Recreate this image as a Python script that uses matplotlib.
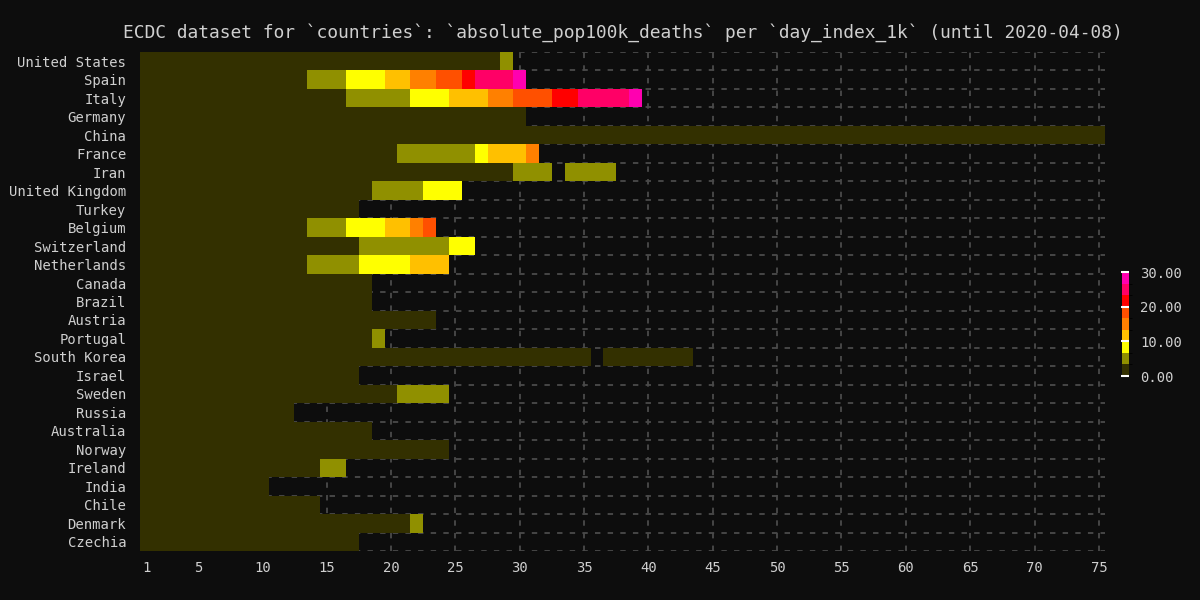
import matplotlib.pyplot as plt
import numpy as np
from matplotlib.colors import ListedColormap, BoundaryNorm

# monospace look like the original
plt.rcParams['font.family'] = ['DejaVu Sans Mono']

# ---------------------------------------------------------
# DATA: cumulative deaths per 100k inhabitants, one value per
# day since the country passed 1000 cases (None = no report)
# ---------------------------------------------------------
countries = ["United States", "Spain", "Italy", "Germany", "China", "France",
             "Iran", "United Kingdom", "Turkey", "Belgium", "Switzerland",
             "Netherlands", "Canada", "Brazil", "Austria", "Portugal",
             "South Korea", "Israel", "Sweden", "Russia", "Australia",
             "Norway", "Ireland", "India", "Chile", "Denmark", "Czechia"]

us = [0.0, 0.0, 0.0, 0.0, 0.0, 0.0, 0.0, 0.0, 0.0, 0.0, 0.0, 0.0, 0.0, 0.1, 0.1,
      0.1, 0.2, 0.2, 0.3, 0.4, 0.5, 0.6, 0.8, 1.0, 1.3, 1.7, 2.1, 2.8, 3.9]
spain = [0.0, 0.0, 0.0, 0.0, 0.0, 0.0, 0.1, 0.1, 0.2, 0.4, 0.6, 0.8, 2.3, 3.7, 4.7,
         5.8, 7.1, 8.6, 9.9, 11.6, 12.9, 14.3, 15.9, 17.5, 19.2, 20.6, 23.5, 24.9,
         26.4, 29.9]
italy = [0.0, 0.1, 0.1, 0.1, 0.2, 0.2, 0.3, 0.4, 0.6, 0.8, 1.0, 1.3, 1.7, 2.1, 2.6,
         3.0, 3.6, 4.2, 4.8, 5.6, 6.5, 7.4, 8.4, 9.3, 10.3, 11.4, 12.6, 13.9, 15.2,
         16.9, 18.1, 19.3, 20.6, 21.8, 23.4, 24.5, 25.5, 26.4, 28.4]
germany = [0.0, 0.0, 0.0, 0.0, 0.0, 0.0, 0.0, 0.0, 0.0, 0.0, 0.0, 0.0, 0.1, 0.1, 0.1,
           0.2, 0.3, 0.3, 0.4, 0.5, 0.6, 0.7, 0.8, 1.0, 1.1, 1.4, 1.6, 1.9, 2.1, 2.4]
china = [0.0, 0.0, 0.0, 0.0, 0.0, 0.0, 0.0, 0.0, 0.0, 0.0,
         0.0, 0.0, 0.0, 0.0, 0.1, 0.1, 0.1, 0.1, 0.1, 0.1,
         0.1, 0.1, 0.1, 0.1, 0.1, 0.1, 0.1, 0.1, 0.1, 0.1,
         0.1, 0.2, 0.2, 0.2, 0.2, 0.2, 0.2, 0.2, 0.2, 0.2,
         0.2, 0.2, 0.2, 0.2, 0.2, 0.2, 0.2, 0.2, 0.2, 0.2,
         0.2, 0.2, 0.2, 0.2, 0.2, 0.2, 0.2, 0.2, 0.2, 0.2,
         0.2, 0.2, 0.2, 0.2, 0.2, 0.2, 0.2, 0.2, 0.2, 0.2,
         0.2, 0.2, 0.2, 0.2, 0.2]
france = [0.0, 0.0, 0.0, 0.0, 0.0, 0.0, 0.0, 0.1, 0.1, 0.1, 0.1, 0.2, 0.3, 0.4, 0.6,
          0.9, 1.1, 1.4, 1.9, 2.6, 3.4, 4.0, 4.6, 5.0, 5.4, 6.0, 8.0, 10.4, 11.3,
          12.4, 15.8]
iran = [0.0, 0.0, 0.0, 0.1, 0.1, 0.1, 0.1, 0.2, 0.2, 0.3, 0.3, 0.4, 0.4, 0.5, 0.6,
        0.7, 0.8, 0.9, 1.1, 1.2, 1.4, 1.6, 1.8, 2.0, 2.2, 2.4, 2.6, 2.9, 3.2, 3.4,
        3.6, 3.8, None, 4.1, 4.3, 4.5, 4.7]
uk = [0.0, 0.0, 0.0, 0.0, 0.0, 0.1, 0.1, 0.2, 0.3, 0.4, 0.5, 0.6, 0.9, 1.1, 1.5,
      1.8, 2.2, 2.9, 3.5, 4.5, 5.5, 6.4, 7.4, 8.4, 9.3]
turkey = [0.0, 0.0, 0.0, 0.1, 0.1, 0.1, 0.2, 0.2, 0.3, 0.3, 0.4, 0.5, 0.5, 0.6, 0.7,
          0.8, 0.9]
belgium = [0.0, 0.0, 0.0, 0.1, 0.1, 0.1, 0.3, 0.6, 0.7, 1.0, 1.5, 2.0, 2.7, 3.6, 4.5,
           6.0, 7.6, 8.9, 9.9, 10.7, 12.3, 15.0, 19.5]
switzerland = [0.0, 0.0, 0.0, 0.1, 0.1, 0.2, 0.2, 0.3, 0.4, 0.6, 0.7, 0.9, 1.1, 1.4,
               1.7, 2.3, 2.8, 3.4, 3.9, 4.4, 4.9, 5.4, 6.1, 6.5, 7.0, 7.8]
netherlands = [0.0, 0.0, 0.1, 0.1, 0.2, 0.3, 0.4, 0.6, 0.8, 1.2, 1.6, 2.1, 2.6, 3.4,
               4.2, 5.1, 6.2, 7.0, 7.9, 8.7, 9.6, 10.2, 11.1, 12.1]
canada = [0.0, 0.0, 0.0, 0.0, 0.0, 0.1, 0.1, 0.1, 0.2, 0.2, 0.3, 0.4, 0.5, 0.6, 0.8,
          0.9, 1.0, 1.1]
brazil = [0.0, 0.0, 0.0, 0.0, 0.0, 0.0, 0.0, 0.1, 0.1, 0.1, 0.2, 0.2, 0.3, 0.3, 0.4,
          0.5, 0.5, 0.6]
austria = [0.0, 0.0, 0.0, 0.0, 0.1, 0.1, 0.2, 0.2, 0.3, 0.4, 0.5, 0.7, 0.8, 1.0, 1.2,
           1.4, 1.6, 1.9, 2.1, 2.3, 2.5, 2.7, 2.9]
portugal = [0.0, 0.0, 0.0, 0.1, 0.1, 0.2, 0.2, 0.4, 0.6, 0.7, 1.0, 1.2, 1.4, 1.6, 2.1,
            2.4, 2.7, 3.1, 3.6]
south_korea = [0.0, 0.0, 0.0, 0.0, 0.0, 0.0, 0.0, 0.1, 0.1, 0.1, 0.1, 0.1, 0.1, 0.1,
               0.1, 0.1, 0.1, 0.1, 0.1, 0.1, 0.2, 0.2, 0.2, 0.2, 0.2, 0.2, 0.2, 0.2,
               0.3, 0.3, 0.3, 0.3, 0.3, 0.3, 0.3, None, 0.3, 0.3, 0.3, 0.4, 0.4, 0.4,
               0.4]
israel = [0.0, 0.0, 0.0, 0.0, 0.0, 0.0, 0.0, 0.0, 0.0, 0.1, 0.1, 0.1, 0.2, 0.3, 0.4,
          0.4, 0.5]
sweden = [0.0, 0.0, 0.0, 0.0, 0.0, 0.0, 0.0, 0.0, 0.1, 0.1, 0.1, 0.2, 0.3, 0.6, 0.8,
          1.0, 1.4, 1.8, 2.3, 3.0, 3.6, 4.0, 5.1, 5.9]
russia = [0.0, 0.0, 0.0, 0.0, 0.01, 0.01, 0.01, 0.02, 0.02, 0.03, 0.03, 0.04]
australia = [0.0, 0.0, 0.0, 0.0, 0.0, 0.1, 0.1, 0.1, 0.1, 0.1, 0.1, 0.1, 0.1, 0.1,
             0.2, 0.2, 0.2, 0.2]
norway = [0.0, 0.0, 0.0, 0.0, 0.1, 0.1, 0.1, 0.1, 0.2, 0.2, 0.3, 0.4, 0.5, 0.6, 0.7,
          0.8, 0.9, 1.0, 1.1, 1.2, 1.3, 1.4, 1.6, 1.7]
ireland = [0.0, 0.0, 0.1, 0.1, 0.2, 0.4, 0.5, 0.7, 1.0, 1.5, 1.7, 2.0, 2.4, 2.8, 3.4,
           3.7]
india = [0.0, 0.0, 0.0, 0.0, 0.0, 0.0, 0.0, 0.0, 0.0, 0.0]
chile = [0.0, 0.0, 0.0, 0.0, 0.0, 0.0, 0.0, 0.1, 0.1, 0.1, 0.1, 0.2, 0.2, 0.3]
denmark = [0.0, 0.0, 0.0, 0.0, 0.0, 0.1, 0.1, 0.2, 0.2, 0.4, 0.6, 0.7, 1.1, 1.3, 1.6,
           1.8, 2.2, 2.5, 2.7, 3.1, 3.2, 3.6]
czechia = [0.0, 0.0, 0.0, 0.0, 0.0, 0.0, 0.1, 0.1, 0.1, 0.2, 0.2, 0.3, 0.4, 0.5, 0.6,
           0.7, 0.8]

rows = [us, spain, italy, germany, china, france, iran, uk, turkey, belgium,
        switzerland, netherlands, canada, brazil, austria, portugal, south_korea,
        israel, sweden, russia, australia, norway, ireland, india, chile, denmark,
        czechia]

n_days = 75
x_ticks = [1, 5, 10, 15, 20, 25, 30, 35, 40, 45, 50, 55, 60, 65, 70, 75]
cbar_ticks = [0, 10, 20, 30]

# matriz países x dias (NaN onde não há dado)
grid = np.full((len(countries), n_days), np.nan)
for i, row in enumerate(rows):
    vals = np.array([np.nan if v is None else v for v in row], dtype=float)
    grid[i, :len(vals)] = vals
grid = np.ma.masked_invalid(grid)

# ---------------------------------------------------------
# ESTILO
# ---------------------------------------------------------
bg = "#0d0d0d"
fg = "#cfcfcf"
band_colors = ["#333000", "#909000", "#ffff00", "#ffc000", "#ff8000",
               "#ff5000", "#ff0000", "#ff0066", "#ff00b0"]
cmap = ListedColormap(band_colors)
norm = BoundaryNorm(np.linspace(0, 30, len(band_colors) + 1), cmap.N)

fig = plt.figure(figsize=(12, 6), dpi=100, facecolor=bg)
ax = fig.add_axes([0.1167, 0.0817, 0.8044, 0.8316], facecolor=bg)

x_edges = np.arange(0.5, n_days + 1, 1)
y_edges = np.arange(len(countries) + 1) - 0.5
mesh = ax.pcolormesh(x_edges, y_edges, grid, cmap=cmap, norm=norm, zorder=2)

ax.set_xlim(0.5, n_days + 0.5)
ax.set_ylim(len(countries) - 0.5, -0.5)

ax.set_xticks(x_ticks)
ax.set_yticks(range(len(countries)), countries)
ax.set_yticks(y_edges, minor=True)

# grade tracejada (só aparece onde não há célula)
ax.grid(axis="x", which="major", color="#4a4a4a", linestyle=(0, (3, 4)),
        linewidth=1.3, zorder=0)
ax.grid(axis="y", which="minor", color="#4a4a4a", linestyle=(0, (3, 4)),
        linewidth=1.3, zorder=0)
ax.set_axisbelow(True)

ax.tick_params(which="both", length=0, colors=fg, labelsize=10)
ax.tick_params(axis="y", pad=10)
ax.tick_params(axis="x", pad=7)
for s in ax.spines.values():
    s.set_visible(False)

ax.set_title("ECDC dataset for `countries`: `absolute_pop100k_deaths` per "
             "`day_index_1k` (until 2020-04-08)", color=fg, fontsize=12.85, pad=10)

# barra de cores
cax = fig.add_axes([0.935, 0.3733, 0.006, 0.1733])
cb = fig.colorbar(mesh, cax=cax, ticks=cbar_ticks, format="%.2f")
cb.outline.set_visible(False)
cax.tick_params(direction="in", length=5.5, width=1.5, color="white",
                labelcolor=fg, labelsize=10, pad=8)

fig.savefig("out.png", dpi=100, facecolor=bg)
